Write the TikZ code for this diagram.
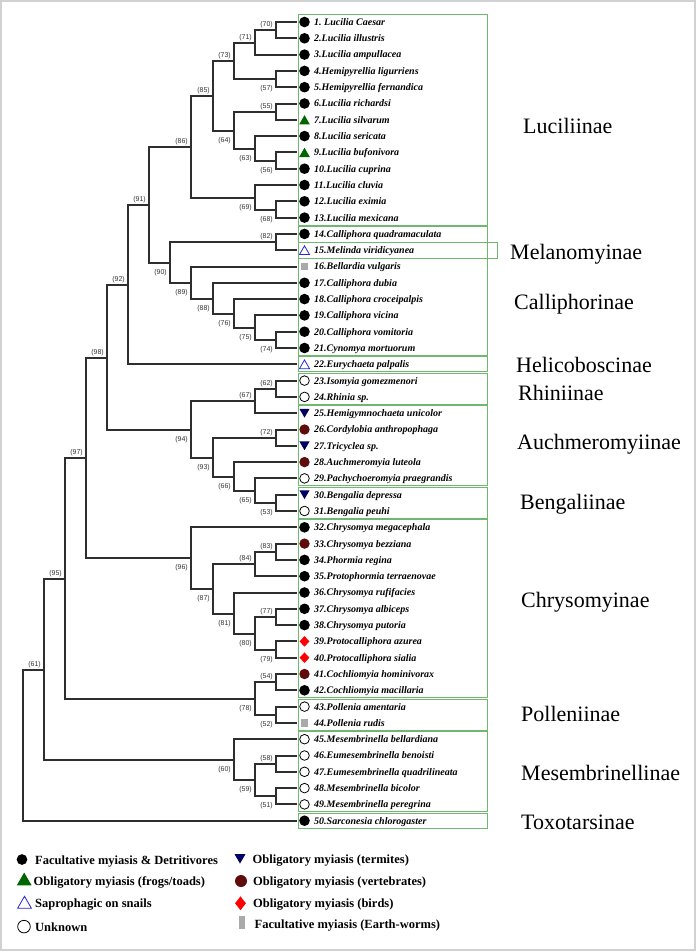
\documentclass[tikz,border=0pt]{standalone}
\usepackage{fontspec}
\setmainfont{Liberation Serif}
\setsansfont{Liberation Sans}
\usetikzlibrary{positioning,calc,shapes.geometric}

\definecolor{boxgreen}{RGB}{112,184,112}
\definecolor{cfrog}{RGB}{0,100,0}
\definecolor{csnail}{RGB}{40,40,215}
\definecolor{ctermite}{RGB}{0,0,100}
\definecolor{cvert}{RGB}{95,12,12}
\definecolor{cworm}{RGB}{170,170,170}

\tikzset{
    branch/.style={line width=1.8pt, black!82},
    support/.style={font=\sffamily\fontsize{7}{8}\selectfont, text=black!80, inner sep=0.5pt},
    supabove/.style={anchor=south east, xshift=-2.5pt, yshift=1pt},
    supbelow/.style={anchor=north east, xshift=-2.5pt, yshift=-5.5pt},
    grpbox/.style={draw=boxgreen, line width=0.9pt},
    taxon/.style={anchor=base west, inner sep=0pt, font=\bfseries\itshape\fontsize{10}{12}\selectfont},
    subfam/.style={anchor=base west, inner sep=0pt, font=\fontsize{22}{24}\selectfont},
    legtext/.style={anchor=base west, inner sep=0pt, font=\bfseries\fontsize{12.5}{14}\selectfont},
    % habit symbols
    symfac/.style={circle, fill=black, inner sep=0pt, minimum size=#1},
    symfac/.default=10.6pt,
    symvert/.style={circle, fill=cvert, inner sep=0pt, minimum size=#1},
    symvert/.default=10.4pt,
    symunk/.style={circle, draw=black, line width=0.8pt, fill=white, inner sep=0pt, minimum size=#1},
    symunk/.default=9.6pt,
    symfrog/.style={regular polygon, regular polygon sides=3, fill=cfrog, inner sep=0pt, minimum size=#1, yshift={-#1/8}},
    symfrog/.default=12.4pt,
    symsnail/.style={regular polygon, regular polygon sides=3, draw=csnail, line width=0.8pt, fill=white, inner sep=0pt, minimum size=#1, yshift={-#1/8}},
    symsnail/.default=11.6pt,
    symterm/.style={regular polygon, regular polygon sides=3, shape border rotate=180, fill=ctermite, inner sep=0pt, minimum size=#1, yshift={#1/8}},
    symterm/.default=11.8pt,
    symbird/.style={diamond, fill=red, inner sep=0pt, minimum width=10pt, minimum height=10.7pt},
    symworm/.style={rectangle, fill=cworm, inner sep=0pt, minimum width=7.2pt, minimum height=7.7pt}
}

% one clade: support value, level from the tips, upper child, lower child, label side
% (positions snapped to whole pixels so all branches render alike)
\newcommand{\clade}[5]{%
    \path let \p1=(#3), \p2=(#4) in
        ({round(297-21.1*#2)*1pt},{round(0.5*\y1+0.5*\y2)*1pt}) coordinate (n#1);
    \draw[branch] (#3) -| (n#1) |- (#4);
    \node[support, #5] (s#1) at (n#1) {(#1)};
}

\begin{document}
\frenchspacing
\begin{tikzpicture}[x=1pt, y=-1pt]
    \useasboundingbox (0,0) rectangle (696,952);
    \draw[black!18, line width=1.2pt] (1,1) rectangle (695,950);

    % Tips: coordinate, habit symbol and species name
    \foreach \i/\sym/\name in {
        1/symfac/{1. Lucilia Caesar}, 2/symfac/{2.Lucilia illustris}, 3/symfac/{3.Lucilia ampullacea},
        4/symfac/{4.Hemipyrellia ligurriens}, 5/symfac/{5.Hemipyrellia fernandica}, 6/symfac/{6.Lucilia richardsi},
        7/symfrog/{7.Lucilia silvarum}, 8/symfac/{8.Lucilia sericata}, 9/symfrog/{9.Lucilia bufonivora},
        10/symfac/{10.Lucilia cuprina}, 11/symfac/{11.Lucilia cluvia}, 12/symfac/{12.Lucilia eximia},
        13/symfac/{13.Lucilia mexicana}, 14/symfac/{14.Calliphora quadramaculata}, 15/symsnail/{15.Melinda viridicyanea},
        16/symworm/{16.Bellardia vulgaris}, 17/symfac/{17.Calliphora dubia}, 18/symfac/{18.Calliphora croceipalpis},
        19/symfac/{19.Calliphora vicina}, 20/symfac/{20.Calliphora vomitoria}, 21/symfac/{21.Cynomya mortuorum},
        22/symsnail/{22.Eurychaeta palpalis}, 23/symunk/{23.Isomyia gomezmenori}, 24/symunk/{24.Rhinia sp.},
        25/symterm/{25.Hemigymnochaeta unicolor}, 26/symvert/{26.Cordylobia anthropophaga}, 27/symterm/{27.Tricyclea sp.},
        28/symvert/{28.Auchmeromyia luteola}, 29/symunk/{29.Pachychoeromyia praegrandis}, 30/symterm/{30.Bengalia depressa},
        31/symunk/{31.Bengalia peuhi}, 32/symfac/{32.Chrysomya megacephala}, 33/symvert/{33.Chrysomya bezziana},
        34/symfac/{34.Phormia regina}, 35/symfac/{35.Protophormia terraenovae}, 36/symfac/{36.Chrysomya rufifacies},
        37/symfac/{37.Chrysomya albiceps}, 38/symfac/{38.Chrysomya putoria}, 39/symbird/{39.Protocalliphora azurea},
        40/symbird/{40.Protocalliphora sialia}, 41/symvert/{41.Cochliomyia hominivorax}, 42/symfac/{42.Cochliomyia macillaria},
        43/symunk/{43.Pollenia amentaria}, 44/symworm/{44.Pollenia rudis}, 45/symunk/{45.Mesembrinella bellardiana},
        46/symunk/{46.Eumesembrinella benoisti}, 47/symunk/{47.Eumesembrinella quadrilineata}, 48/symunk/{48.Mesembrinella bicolor},
        49/symunk/{49.Mesembrinella peregrina}, 50/symfac/{50.Sarconesia chlorogaster}} {
        \coordinate (t\i) at (297,{round(22+(\i-1)*16.3)});
        \node[\sym] (m\i) at (304.5,{22+(\i-1)*16.3}) {};
        \node[taxon] (l\i) at (314,{25.4+(\i-1)*16.3}) {\name};
    }

    % Subfamily boxes
    \foreach \a/\b in {1/13, 14/21, 22/22, 23/24, 25/29, 30/31, 32/42, 43/44, 45/49, 50/50} {
        \draw[grpbox] ($(t\a)+(1,-7.5)$) rectangle ($(t\b)+(190,7.5)$);
    }
    \draw[grpbox] ($(t15)+(1,-8)$) rectangle ($(t15)+(200,8)$);

    % Luciliinae
    \clade{70}{1}{t1}{t2}{supabove}
    \clade{71}{2}{n70}{t3}{supabove}
    \clade{57}{1}{t4}{t5}{supbelow}
    \clade{73}{3}{n71}{n57}{supabove}
    \clade{55}{1}{t6}{t7}{supabove}
    \clade{56}{1}{t9}{t10}{supbelow}
    \clade{63}{2}{t8}{n56}{supbelow}
    \clade{64}{3}{n55}{n63}{supbelow}
    \clade{85}{4}{n73}{n64}{supabove}
    \clade{68}{1}{t12}{t13}{supbelow}
    \clade{69}{2}{t11}{n68}{supbelow}
    \clade{86}{5}{n85}{n69}{supabove}

    % Melanomyinae and Calliphorinae
    \clade{82}{1}{t14}{t15}{supabove}
    \clade{74}{1}{t20}{t21}{supbelow}
    \clade{75}{2}{t19}{n74}{supbelow}
    \clade{76}{3}{t18}{n75}{supbelow}
    \clade{88}{4}{t17}{n76}{supbelow}
    \clade{89}{5}{t16}{n88}{supbelow}
    \clade{90}{6}{n82}{n89}{supbelow}
    \clade{91}{7}{n86}{n90}{supabove}
    \clade{92}{8}{n91}{t22}{supabove}

    % Rhiniinae, Auchmeromyiinae, Bengaliinae
    \clade{62}{1}{t23}{t24}{supabove}
    \clade{67}{2}{n62}{t25}{supabove}
    \clade{72}{1}{t26}{t27}{supabove}
    \clade{53}{1}{t30}{t31}{supbelow}
    \clade{65}{2}{t29}{n53}{supbelow}
    \clade{66}{3}{t28}{n65}{supbelow}
    \clade{93}{4}{n72}{n66}{supbelow}
    \clade{94}{5}{n67}{n93}{supbelow}
    \clade{98}{9}{n92}{n94}{supabove}

    % Chrysomyinae
    \clade{83}{1}{t33}{t34}{supabove}
    \clade{84}{2}{n83}{t35}{supabove}
    \clade{77}{1}{t37}{t38}{supabove}
    \clade{79}{1}{t39}{t40}{supbelow}
    \clade{80}{2}{n77}{n79}{supbelow}
    \clade{81}{3}{t36}{n80}{supbelow}
    \clade{87}{4}{n84}{n81}{supbelow}
    \clade{96}{5}{t32}{n87}{supbelow}
    \clade{97}{10}{n98}{n96}{supabove}

    % Polleniinae
    \clade{54}{1}{t41}{t42}{supabove}
    \clade{52}{1}{t43}{t44}{supbelow}
    \clade{78}{2}{n54}{n52}{supbelow}
    \clade{95}{11}{n97}{n78}{supabove}

    % Mesembrinellinae
    \clade{58}{1}{t46}{t47}{supabove}
    \clade{51}{1}{t48}{t49}{supbelow}
    \clade{59}{2}{n58}{n51}{supbelow}
    \clade{60}{3}{t45}{n59}{supbelow}
    \clade{61}{12}{n95}{n60}{supabove}

    % Root with Toxotarsinae
    \path let \p1=(n61), \p2=(t50) in
        ({round(297-21.1*13)*1pt},{round(0.5*\y1+0.5*\y2)*1pt}) coordinate (n0);
    \draw[branch] (n61) -| (n0) |- (t50);

    % Subfamily names
    \node[subfam] (gLuc) at (523,134) {Luciliinae};
    \node[subfam] (gMel) at (510,259) {Melanomyinae};
    \node[subfam] (gCal) at (514,309) {Calliphorinae};
    \node[subfam] (gHel) at (516,372) {Helicoboscinae};
    \node[subfam] (gRhi) at (518,400) {Rhiniinae};
    \node[subfam] (gAuc) at (517,449) {Auchmeromyiinae};
    \node[subfam] (gBen) at (520,509) {Bengaliinae};
    \node[subfam] (gChr) at (521,607) {Chrysomyinae};
    \node[subfam] (gPol) at (521,721) {Polleniinae};
    \node[subfam] (gMes) at (521,780) {Mesembrinellinae};
    \node[subfam] (gTox) at (521,829) {Toxotarsinae};

    % Legend
    \node[symfac=10.7pt] (k1) at (22,859.5) {};
    \node[legtext] (kt1) at (35,864.3) {Facultative myiasis \& Detritivores};
    \node[symfrog=17.3pt] (k2) at (24.2,879) {};
    \node[legtext] (kt2) at (33.5,885) {Obligatory myiasis (frogs/toads)};
    \node[symsnail=16pt] (k3) at (24.5,902.3) {};
    \node[legtext] (kt3) at (35,907.3) {Saprophagic on snails};
    \node[symunk=12.6pt] (k4) at (24,926.6) {};
    \node[legtext] (kt4) at (35,931) {Unknown};
    \node[symterm=12.7pt] (k5) at (240,858.8) {};
    \node[legtext] (kt5) at (252.5,863.3) {Obligatory myiasis (termites)};
    \node[symvert=12pt] (k6) at (241,881) {};
    \node[legtext] (kt6) at (253,885.7) {Obligatory myiasis (vertebrates)};
    \node[symbird, minimum width=11pt, minimum height=14pt] (k7) at (240.5,903.3) {};
    \node[legtext] (kt7) at (253,907.3) {Obligatory myiasis (birds)};
    \node[symworm, minimum width=6.7pt, minimum height=13pt] (k8) at (242,922.7) {};
    \node[legtext] (kt8) at (254.5,928.3) {Facultative myiasis (Earth-worms)};
\end{tikzpicture}
\end{document}
